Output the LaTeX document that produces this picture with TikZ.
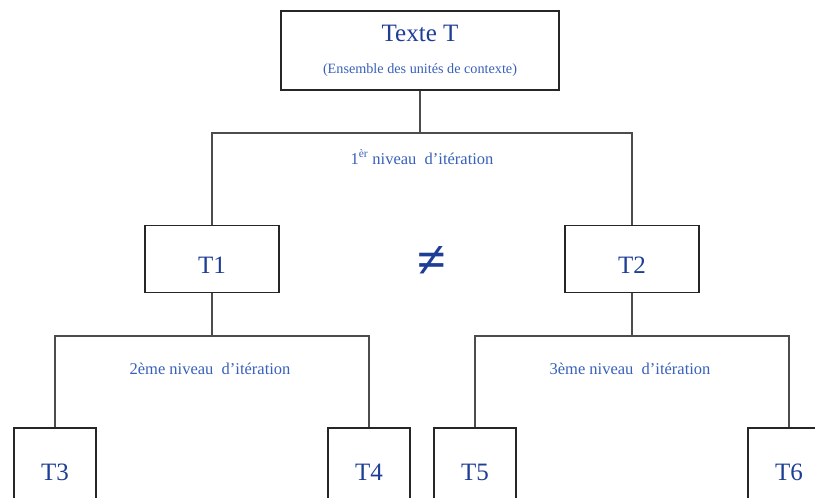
\documentclass[tikz,border=0pt]{standalone}
\usepackage{fontspec}
\setmainfont{Liberation Serif}
\usetikzlibrary{positioning}
\definecolor{darkblue}{RGB}{30,62,150}
\definecolor{lightblue}{RGB}{56,96,186}

\begin{document}
\begin{tikzpicture}[x=1pt, y=-1pt,
    main node/.style={rectangle,draw=black!85,line width=1.6pt,text=darkblue,
                      inner ysep=0pt,font=\fontsize{25}{30}\selectfont},
    mid node/.style={main node,minimum width=134pt,text height=48pt,text depth=19pt},
    leaf node/.style={main node,minimum width=82pt,text height=52pt,text depth=40pt},
    level label/.style={text=lightblue,font=\fontsize{16.5}{20}\selectfont},
    link/.style={draw=black!70,line width=1.4pt}]

  \useasboundingbox (0,0) rectangle (815,498);
  \clip (0,0) rectangle (815,498);

  % top of the tree
  \node[main node,minimum width=278pt,minimum height=79pt,inner ysep=4pt,align=center] (T) at (420,50.5)
    {Texte T\\[2pt]{\fontsize{14.2}{16}\selectfont\color{lightblue}(Ensemble des unités de contexte)}};

  \node[mid node] (T1) at (212,259) {T1};
  \node[mid node] (T2) at (632,259) {T2};
  \node[text=darkblue,font=\bfseries\fontsize{52}{56}\selectfont,inner sep=0pt] (neq) at (432,262) {≠};

  \node[leaf node] (T3) at (55,474) {T3};
  \node[leaf node] (T4) at (369,474) {T4};
  \node[leaf node] (T5) at (475,474) {T5};
  \node[leaf node] (T6) at (789,474) {T6};

  \coordinate (split1) at (420,133);
  \coordinate (split2) at (212,336);
  \coordinate (split3) at (632,336);

  \node[level label] (lvl1) at (422,157) {1\textsuperscript{èr} niveau~~d’itération};
  \node[level label] (lvl2) at (210,369) {2ème niveau~~d’itération};
  \node[level label] (lvl3) at (630,369) {3ème niveau~~d’itération};

  \draw[link] (T) -- (split1) -| (T1);
  \draw[link] (split1) -| (T2);
  \draw[link] (T1) -- (split2) -| (T3);
  \draw[link] (split2) -| (T4);
  \draw[link] (T2) -- (split3) -| (T5);
  \draw[link] (split3) -| (T6);
\end{tikzpicture}
\end{document}
